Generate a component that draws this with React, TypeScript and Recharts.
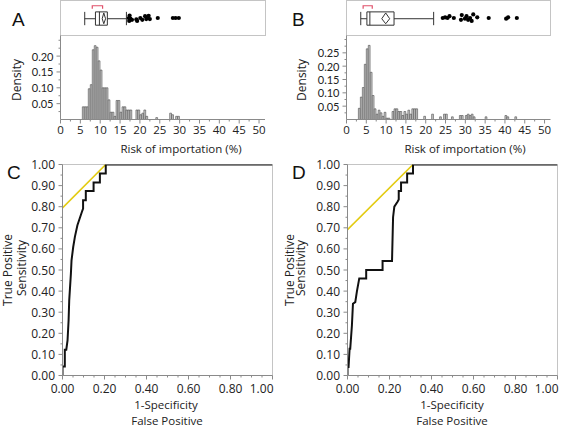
import { ComposedChart, LineChart, Line, Bar, Scatter, XAxis, YAxis, ReferenceArea, ReferenceLine } from 'recharts'

const FONT = '"Open Sans", "Segoe UI", Arial, sans-serif'
const TICK_FONT_TIGHT = 'Lato, "Open Sans", sans-serif'
const TXT = '#222'
const AXIS = '#8a8a8a'
const FRAME = '#c4c4c4'
const INK = '#333'
const YELLOW = '#e3cb12'
const BRACKET = '#e0506a'

// histogram A: bin centres (0.5 wide) and density
const binsA = [5.75, 6.25, 6.75, 7.25, 7.75, 8.25, 8.75, 9.25, 9.75, 10.25, 10.75, 11.25, 11.75, 12.25, 12.75, 13.25, 13.75, 14.25, 14.75, 15.25, 15.75, 16.25, 16.75, 17.25, 17.75, 18.25, 18.75, 19.25, 19.75, 20.25, 20.75, 21.25, 21.75, 22.25, 22.75, 23.25, 23.75, 24.25, 24.75, 25.25, 25.75, 26.25, 26.75, 27.25, 27.75, 28.25, 28.75, 29.25, 29.75]
const densA = [0.04, 0.04, 0.04, 0.097, 0.11, 0.22, 0.233, 0.228, 0.185, 0.156, 0.1, 0.1, 0.1, 0.062, 0.023, 0.023, 0.01, 0.06, 0.06, 0.023, 0.04, 0.04, 0.03, 0.03, 0.03, 0, 0, 0.03, 0.03, 0.015, 0.02, 0.03, 0.01, 0, 0, 0, 0, 0.006, 0, 0, 0, 0, 0, 0, 0.02, 0.015, 0, 0.01, 0.01]

// histogram B
const binsB = [3.25, 3.75, 4.25, 4.75, 5.25, 5.75, 6.25, 6.75, 7.25, 7.75, 8.25, 8.75, 9.25, 9.75, 10.25, 10.75, 11.25, 11.75, 12.25, 12.75, 13.25, 13.75, 14.25, 14.75, 15.25, 15.75, 16.25, 16.75, 17.25, 17.75, 18.25, 18.75, 19.25, 19.75, 20.25, 20.75, 21.25, 21.75, 22.25, 22.75, 23.25, 23.75, 24.25, 24.75, 25.25, 25.75, 26.25, 26.75, 27.25, 27.75, 28.25, 28.75, 29.25, 29.75, 30.25, 30.75, 31.25, 31.75, 32.25, 32.75, 33.25, 33.75, 34.25, 34.75, 35.25, 35.75, 36.25, 36.75, 37.25, 37.75, 38.25, 38.75, 39.25, 39.75, 40.25, 40.75, 41.25, 41.75, 42.25, 42.75]
const densB = [0.042, 0.084, 0.12, 0.207, 0.265, 0.278, 0.177, 0.09, 0.04, 0.02, 0.035, 0.025, 0.012, 0.027, 0.005, 0.005, 0, 0.03, 0.04, 0.04, 0.03, 0.03, 0.015, 0.03, 0.02, 0.035, 0.02, 0.04, 0.04, 0.04, 0, 0, 0, 0.012, 0, 0, 0, 0.02, 0, 0, 0, 0.01, 0, 0.02, 0.02, 0, 0, 0.01, 0, 0, 0, 0.015, 0.015, 0, 0.015, 0.02, 0.015, 0.02, 0.01, 0, 0, 0, 0, 0, 0.01, 0, 0, 0, 0, 0, 0, 0, 0, 0, 0.015, 0.01, 0, 0, 0, 0.01]

// box plots: [low whisker, q1, median, q3, high whisker]
const boxA = [6.1, 8.8, 9.8, 11.8, 16.6]
const meanA = [10.5, 10.9, 11.35] // mean and its CI (diamond)
const halfA = [8.0, 10.6] // shortest half bracket
const outXA = [17.2, 17.3, 17.4, 17.6, 18.0, 19.1, 19.3, 20.1, 20.6, 21.3, 21.6, 21.9, 22.2, 22.5, 24.5, 28.3, 29.0, 29.8]
const outYA = [0.5, 0.42, 0.57, 0.48, 0.45, 0.46, 0.42, 0.5, 0.45, 0.55, 0.47, 0.5, 0.56, 0.47, 0.5, 0.5, 0.5, 0.5]

const boxB = [3.6, 5.15, 5.9, 12.0, 22.0]
const meanB = [8.9, 9.9, 10.9]
const halfB = [4.2, 6.5]
const outXB = [24.3, 24.9, 25.5, 26.0, 27.1, 28.9, 29.1, 29.9, 30.3, 30.7, 31.2, 31.6, 32.0, 33.0, 35.9, 40.3, 40.8, 43.0]
const outYB = [0.5, 0.52, 0.5, 0.55, 0.5, 0.45, 0.58, 0.48, 0.55, 0.45, 0.5, 0.42, 0.6, 0.52, 0.5, 0.48, 0.52, 0.5]

const histTicks = [0, 2.5, 5, 7.5, 10, 12.5, 15, 17.5, 20, 22.5, 25, 27.5, 30, 32.5, 35, 37.5, 40, 42.5, 45, 47.5, 50]
const histLabels = [0, 5, 10, 15, 20, 25, 30, 35, 40, 45, 50]
const densTicksA = [0.025, 0.05, 0.075, 0.1, 0.125, 0.15, 0.175, 0.2, 0.225, 0.25]
const densLabelsA = [0.05, 0.1, 0.15, 0.2]
const densTicksB = [0.025, 0.05, 0.075, 0.1, 0.125, 0.15, 0.175, 0.2, 0.225, 0.25, 0.275, 0.3]
const densLabelsB = [0.05, 0.1, 0.15, 0.2, 0.25]

// ROC curves
const fprC = [0, 0, 0.011, 0.011, 0.018, 0.024, 0.029, 0.032, 0.04, 0.043, 0.051, 0.059, 0.071, 0.095, 0.098, 0.098, 0.111, 0.111, 0.148, 0.148, 0.178, 0.178, 0.206, 0.206, 1]
const tprC = [0, 0.043, 0.043, 0.122, 0.122, 0.166, 0.261, 0.356, 0.483, 0.546, 0.609, 0.657, 0.712, 0.783, 0.791, 0.83, 0.83, 0.875, 0.875, 0.915, 0.915, 0.957, 0.957, 1, 1]
const tanFprC = [0, 0.206]
const tanTprC = [0.794, 1]

const fprD = [0, 0, 0.005, 0.01, 0.013, 0.021, 0.026, 0.037, 0.045, 0.056, 0.089, 0.089, 0.167, 0.167, 0.212, 0.217, 0.223, 0.239, 0.244, 0.244, 0.255, 0.255, 0.284, 0.284, 0.312, 0.312, 1]
const tprD = [0, 0.04, 0.04, 0.127, 0.127, 0.237, 0.34, 0.348, 0.4, 0.46, 0.46, 0.5, 0.5, 0.543, 0.543, 0.75, 0.8, 0.825, 0.834, 0.875, 0.875, 0.915, 0.915, 0.957, 0.957, 1, 1]
const tanFprD = [0, 0.312]
const tanTprD = [0.691, 1]

const rocXTicks = [0, 0.05, 0.1, 0.15, 0.2, 0.25, 0.3, 0.35, 0.4, 0.45, 0.5, 0.55, 0.6, 0.65, 0.7, 0.75, 0.8, 0.85, 0.9, 0.95, 1]
const rocXLabels = [0, 0.2, 0.4, 0.6, 0.8, 1]
const rocYTicks = [0, 0.05, 0.1, 0.15, 0.2, 0.25, 0.3, 0.35, 0.4, 0.45, 0.5, 0.55, 0.6, 0.65, 0.7, 0.75, 0.8, 0.85, 0.9, 0.95, 1]
const rocYLabels = [0, 0.1, 0.2, 0.3, 0.4, 0.5, 0.6, 0.7, 0.8, 0.9, 1]

const near = (list: number[], v: number) => list.some(l => Math.abs(l - v) < 1e-6)

// last label is pulled inside the frame, like the source's ROC axes
function xTick(labels: number[], fmt: (v: number) => string, gap: number, size: number, endLast = false) {
  const last = labels[labels.length - 1]
  return (p: any) => {
    const v = p.payload.value
    const major = near(labels, v)
    const pull = endLast && Math.abs(v - last) < 1e-6
    return (
      <g>
        <line x1={p.x} x2={p.x} y1={p.y} y2={p.y + (major ? 4 : 2)} stroke={AXIS} />
        {major && (
          <text x={pull ? p.x + 1 : p.x} y={p.y + gap} textAnchor={pull ? 'end' : 'middle'} dominantBaseline="central"
            fontSize={size} fontFamily={FONT} fill={TXT}>
            {fmt(v)}
          </text>
        )}
      </g>
    )
  }
}

function yTick(labels: number[], fmt: (v: number) => string, gap: number, size: number, font = FONT) {
  return (p: any) => {
    const major = near(labels, p.payload.value)
    return (
      <g>
        <line x1={p.x} x2={p.x - (major ? 4 : 2)} y1={p.y} y2={p.y} stroke={AXIS} />
        {major && (
          <text x={p.x - gap} y={p.y} textAnchor="end" dominantBaseline="central" fontSize={size} fontFamily={font} fill={TXT}>
            {fmt(p.payload.value)}
          </text>
        )}
      </g>
    )
  }
}

function Txt({ x, y, size = 11.5, rot = false, children }: { x: number; y: number; size?: number; rot?: boolean; children: any }) {
  return (
    <div style={{
      position: 'absolute', left: x, top: y, transform: `translate(-50%, -50%)${rot ? ' rotate(-90deg)' : ''}`,
      fontSize: size, lineHeight: 1, whiteSpace: 'nowrap', color: TXT, fontFamily: FONT
    }}>{children}</div>
  )
}

function Letter({ x, y, children }: { x: number; y: number; children: any }) {
  return (
    <div style={{ position: 'absolute', left: x, top: y, fontSize: 19, lineHeight: 1, fontFamily: '"Liberation Sans", Arial, sans-serif', color: '#111' }}>
      {children}
    </div>
  )
}

function Histogram({ bins, dens, yMax, yTicks, yLabels, right }: { bins: number[]; dens: number[]; yMax: number; yTicks: number[]; yLabels: number[]; right: number }) {
  const data = bins.map((x, i) => ({ x, d: dens[i] }))
  return (
    <ComposedChart width={270} height={156} data={data} margin={{ top: 35.5, right, bottom: 0, left: 0.5 }} barCategoryGap={0} barGap={0}>
      <XAxis dataKey="x" type="number" domain={[0, 51.5]} ticks={histTicks} interval={0} tickSize={0} tickMargin={0} tickLine={false}
        axisLine={{ stroke: AXIS }} height={36.5} tick={xTick(histLabels, v => String(v), 9.5, 11.5)} allowDataOverflow />
      <YAxis type="number" domain={[0, yMax]} ticks={yTicks} interval={0} tickSize={0} tickMargin={0} tickLine={false}
        axisLine={{ stroke: AXIS }} width={60} tick={yTick(yLabels, v => v.toFixed(2), 7, 11, TICK_FONT_TIGHT)} allowDataOverflow />
      <Bar dataKey="d" fill="#cacaca" stroke="#4a4a4a" strokeWidth={0.6} barSize={2} isAnimationActive={false} />
    </ComposedChart>
  )
}

function BoxPlot({ box, mean, half, outX, outY, right }: { box: number[]; mean: number[]; half: number[]; outX: number[]; outY: number[]; right: number }) {
  const pts = outX.map((x, i) => ({ x, y: outY[i] }))
  const mid = 0.48
  const diamond = [
    { x: mean[0], y: mid }, { x: mean[1], y: 0.64 }, { x: mean[2], y: mid }, { x: mean[1], y: 0.34 }, { x: mean[0], y: mid }
  ]
  const bracket = [{ x: half[0], y: 0.76 }, { x: half[0], y: 0.84 }, { x: half[1], y: 0.84 }, { x: half[1], y: 0.76 }]
  const segs = [
    [{ x: box[0], y: mid }, { x: box[1], y: mid }],
    [{ x: box[3], y: mid }, { x: box[4], y: mid }],
    [{ x: box[0], y: 0.3 }, { x: box[0], y: 0.67 }],
    [{ x: box[4], y: 0.3 }, { x: box[4], y: 0.67 }],
  ]
  return (
    <ComposedChart width={270} height={36} margin={{ top: 0, right, bottom: 0, left: 60.5 }}>
      <XAxis dataKey="x" type="number" domain={[0, 51.5]} hide />
      <YAxis dataKey="y" type="number" domain={[0, 1]} hide />
      {segs.map((s, i) => <ReferenceLine key={i} segment={s} stroke={INK} strokeWidth={1} />)}
      <ReferenceArea x1={box[1]} x2={box[3]} y1={0.3} y2={0.67} fill="#fff" fillOpacity={1} stroke={INK} strokeWidth={1} />
      <ReferenceLine segment={[{ x: box[2], y: 0.3 }, { x: box[2], y: 0.67 }]} stroke={INK} strokeWidth={1} />
      <Line data={diamond} dataKey="y" stroke={INK} strokeWidth={1} dot={false} isAnimationActive={false} />
      <Line data={bracket} dataKey="y" stroke={BRACKET} strokeWidth={1.2} dot={false} isAnimationActive={false} />
      <Scatter data={pts} fill="#000" isAnimationActive={false}
        shape={(p: any) => <circle cx={p.cx} cy={p.cy} r={2.1} fill="#000" />} />
    </ComposedChart>
  )
}

function Roc({ fpr, tpr, tanFpr, tanTpr, width, right }: { fpr: number[]; tpr: number[]; tanFpr: number[]; tanTpr: number[]; width: number; right: number }) {
  const roc = fpr.map((x, i) => ({ fpr: x, tpr: tpr[i] }))
  const tan = tanFpr.map((x, i) => ({ fpr: x, tpr: tanTpr[i] }))
  return (
    <LineChart width={width} height={260} margin={{ top: 14.5, right, bottom: 0, left: 0.5 }}>
      <XAxis dataKey="fpr" type="number" domain={[0, 1]} ticks={rocXTicks} interval={0} tickSize={0} tickMargin={0} tickLine={false}
        axisLine={{ stroke: AXIS }} height={34.5} tick={xTick(rocXLabels, v => v.toFixed(2), 13, 12, true)} allowDataOverflow />
      <YAxis type="number" domain={[0, 1]} ticks={rocYTicks} interval={0} tickSize={0} tickMargin={0} tickLine={false}
        axisLine={{ stroke: AXIS }} width={62} tick={yTick(rocYLabels, v => v.toFixed(2), 7.5, 12)} allowDataOverflow />
      <ReferenceArea x1={0} x2={1} y1={0} y2={1} fill="none" stroke={FRAME} />
      <Line data={tan} dataKey="tpr" stroke={YELLOW} strokeWidth={1.6} dot={false} isAnimationActive={false} />
      <Line data={roc} dataKey="tpr" stroke="#111" strokeWidth={2} dot={false} isAnimationActive={false} />
    </LineChart>
  )
}

const boxFrame = (left: number, width: number) => (
  <div style={{ position: 'absolute', left, top: 0, width, height: 36, border: `1px solid ${FRAME}`, boxSizing: 'border-box' }} />
)

export default function App() {
  return (
    <div style={{ position: 'absolute', left: 0, top: 0, width: 567, height: 427, background: '#fff', overflow: 'hidden', fontFamily: FONT }}>
      {/* panel A */}
      {boxFrame(60, 206)}
      <div style={{ position: 'absolute', left: 0, top: 0 }}>
        <BoxPlot box={boxA} mean={meanA} half={halfA} outX={outXA} outY={outYA} right={5} />
      </div>
      <div style={{ position: 'absolute', left: 0, top: 0 }}>
        <Histogram bins={binsA} dens={densA} yMax={0.265} yTicks={densTicksA} yLabels={densLabelsA} right={5} />
      </div>
      <Txt x={17} y={80} size={12} rot>Density</Txt>
      <Txt x={181} y={149}>Risk of importation (%)</Txt>
      <Letter x={12} y={10}>A</Letter>

      {/* panel B */}
      {boxFrame(346, 205)}
      <div style={{ position: 'absolute', left: 286, top: 0 }}>
        <BoxPlot box={boxB} mean={meanB} half={halfB} outX={outXB} outY={outYB} right={5.5} />
      </div>
      <div style={{ position: 'absolute', left: 286, top: 0 }}>
        <Histogram bins={binsB} dens={densB} yMax={0.315} yTicks={densTicksB} yLabels={densLabelsB} right={5.5} />
      </div>
      <Txt x={302} y={80} size={12} rot>Density</Txt>
      <Txt x={465} y={149}>Risk of importation (%)</Txt>
      <Letter x={292} y={10}>B</Letter>

      {/* panel C */}
      <div style={{ position: 'absolute', left: 0, top: 150 }}>
        <Roc fpr={fprC} tpr={tprC} tanFpr={tanFprC} tanTpr={tanTprC} width={285} right={12.5} />
      </div>
      <Txt x={8} y={270} size={12} rot>True Positive</Txt>
      <Txt x={22} y={268} size={12} rot>Sensitivity</Txt>
      <Txt x={166} y={405}>1-Specificity</Txt>
      <Txt x={167} y={421}>False Positive</Txt>
      <Letter x={7} y={163}>C</Letter>

      {/* panel D */}
      <div style={{ position: 'absolute', left: 285, top: 150 }}>
        <Roc fpr={fprD} tpr={tprD} tanFpr={tanFprD} tanTpr={tanTprD} width={282} right={9.5} />
      </div>
      <Txt x={290} y={270} size={12} rot>True Positive</Txt>
      <Txt x={301} y={268} size={12} rot>Sensitivity</Txt>
      <Txt x={452} y={405}>1-Specificity</Txt>
      <Txt x={452} y={421}>False Positive</Txt>
      <Letter x={292} y={163}>D</Letter>
    </div>
  )
}
